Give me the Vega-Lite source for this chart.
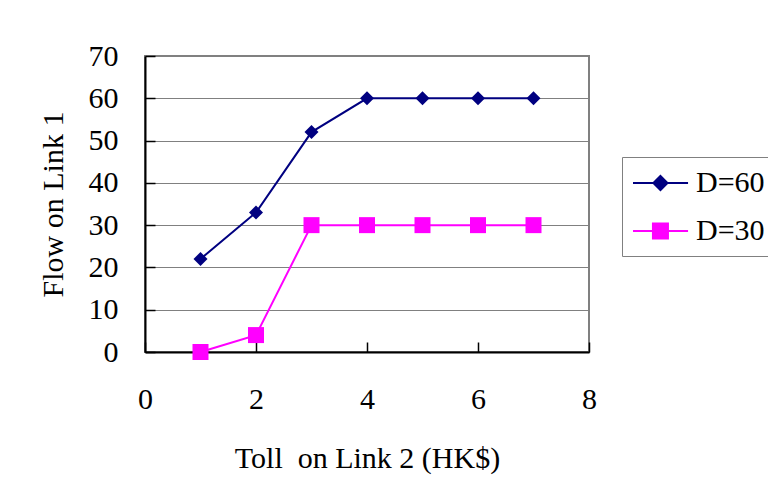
{
  "$schema": "https://vega.github.io/schema/vega-lite/v6.json",
  "width": 444,
  "height": 296,
  "autosize": "none",
  "padding": {"left": 145, "top": 56, "right": 179, "bottom": 150},
  "background": "white",
  "config": {
    "font": "Liberation Serif",
    "view": {"stroke": "#808080", "strokeWidth": 2},
    "axis": {
      "labelFont": "Liberation Serif",
      "titleFont": "Liberation Serif",
      "labelFontSize": 30,
      "titleFontSize": 30,
      "labelColor": "#000",
      "titleColor": "#000",
      "titleFontWeight": "normal",
      "labelFlush": false,
      "domainColor": "#000",
      "domainWidth": 2,
      "tickColor": "#000",
      "tickWidth": 1.5,
      "gridColor": "#808080",
      "gridWidth": 1.2
    },
    "legend": {
      "labelFont": "Liberation Serif",
      "labelFontSize": 30,
      "labelColor": "#000"
    }
  },
  "data": {
    "values": [
      {"toll": 1, "flow": 22, "series": "D=60"},
      {"toll": 2, "flow": 33, "series": "D=60"},
      {"toll": 3, "flow": 52, "series": "D=60"},
      {"toll": 4, "flow": 60, "series": "D=60"},
      {"toll": 5, "flow": 60, "series": "D=60"},
      {"toll": 6, "flow": 60, "series": "D=60"},
      {"toll": 7, "flow": 60, "series": "D=60"},
      {"toll": 1, "flow": 0, "series": "D=30"},
      {"toll": 2, "flow": 4, "series": "D=30"},
      {"toll": 3, "flow": 30, "series": "D=30"},
      {"toll": 4, "flow": 30, "series": "D=30"},
      {"toll": 5, "flow": 30, "series": "D=30"},
      {"toll": 6, "flow": 30, "series": "D=30"},
      {"toll": 7, "flow": 30, "series": "D=30"}
    ]
  },
  "encoding": {
    "x": {
      "field": "toll",
      "type": "quantitative",
      "scale": {"domain": [0, 8], "nice": false},
      "axis": {
        "values": [0, 2, 4, 6, 8],
        "grid": false,
        "tickSize": -10,
        "labelPadding": 42,
        "labelBaseline": "top",
        "title": "Toll\u00a0 on Link 2 (HK$)",
        "titleY": 106,
        "titleBaseline": "middle"
      }
    },
    "y": {
      "field": "flow",
      "type": "quantitative",
      "scale": {"domain": [0, 70], "nice": false},
      "axis": {
        "values": [0, 10, 20, 30, 40, 50, 60, 70],
        "grid": true,
        "tickSize": -10,
        "labelPadding": 37,
        "title": "Flow on Link 1",
        "titleX": -92,
        "titleAlign": "center",
        "titleBaseline": "middle",
        "titleAngle": -90
      }
    },
    "color": {
      "field": "series",
      "type": "nominal",
      "scale": {"domain": ["D=60", "D=30"], "range": ["#000080", "#FF00FF"]},
      "legend": {
        "title": null,
        "orient": "none",
        "legendX": 477,
        "legendY": 101,
        "strokeColor": "#808080",
        "fillColor": "white",
        "padding": 10,
        "rowPadding": 17,
        "symbolSize": 900,
        "symbolStrokeWidth": 2,
        "symbolOpacity": 1,
        "labelOffset": 32,
        "encode": {
          "symbols": {
            "update": {
              "shape": {"signal": "datum.value === 'D=60' ? 'M-1,0H2.67M0.83,-0.47L1.3,0L0.83,0.47L0.36,0Z' : 'M-1,0H2.67M0.33,-0.5H1.33V0.5H0.33Z'"},
              "fill": {"signal": "scale('color', datum.value)"},
              "stroke": {"signal": "scale('color', datum.value)"}
            }
          }
        }
      }
    }
  },
  "layer": [
    {
      "mark": {"type": "line", "strokeWidth": 2, "clip": false}
    },
    {
      "transform": [{"filter": "datum.series === 'D=60'"}],
      "mark": {"type": "point", "shape": "diamond", "size": 196, "filled": true, "opacity": 1, "clip": false}
    },
    {
      "transform": [{"filter": "datum.series === 'D=30'"}],
      "mark": {"type": "point", "shape": "square", "size": 256, "filled": true, "opacity": 1, "clip": false}
    }
  ]
}
